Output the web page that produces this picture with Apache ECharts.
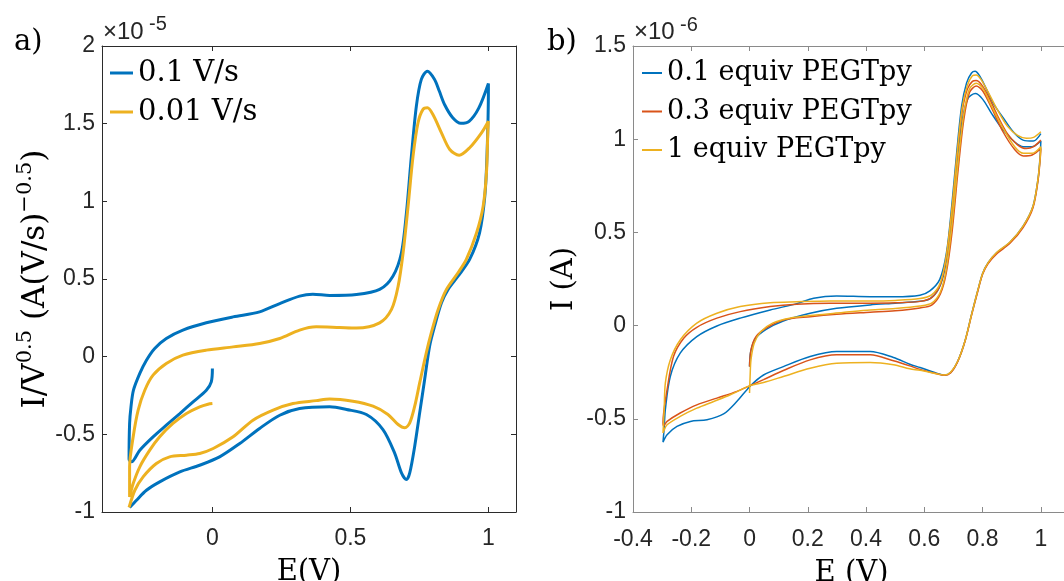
<!DOCTYPE html>
<html><head><meta charset="utf-8">
<script src="https://cdn.jsdelivr.net/npm/echarts@6/dist/echarts.min.js"></script>
<style>html,body{margin:0;padding:0;background:#fff}#c{width:1064px;height:581px}</style>
</head><body><div id="c"></div>
<script>
// ---------- data ----------
const aNames = ['0.1 V/s', '0.01 V/s'];
const bNames = ['0.1 equiv PEGTpy', '0.3 equiv PEGTpy', '1 equiv PEGTpy'];
const aXTicks = [0, 0.5, 1];
const aYTicks = [-1, -0.5, 0, 0.5, 1, 1.5, 2];
const bXTicks = [-0.4, -0.2, 0, 0.2, 0.4, 0.6, 0.8, 1];
const bYTicks = [-1, -0.5, 0, 0.5, 1, 1.5];

// panel a: [E (V), I/V^0.5 (x1e-5)]
const aBlue = [[0,-0.076],[-0.004,-0.162],[-0.022,-0.216],[-0.07,-0.291],[-0.118,-0.366],[-0.167,-0.441],[-0.215,-0.516],[-0.263,-0.602],[-0.293,-0.677],[-0.302,-0.66],[-0.3,-0.43],[-0.295,-0.323],[-0.286,-0.216],[-0.263,-0.108],[-0.239,-0.023],[-0.209,0.053],[-0.167,0.117],[-0.107,0.171],[-0.022,0.218],[0.075,0.256],[0.171,0.288],[0.244,0.342],[0.316,0.39],[0.364,0.402],[0.425,0.394],[0.522,0.4],[0.606,0.433],[0.654,0.518],[0.685,0.669],[0.703,0.926],[0.721,1.291],[0.739,1.613],[0.757,1.785],[0.779,1.838],[0.805,1.785],[0.822,1.71],[0.842,1.62],[0.87,1.54],[0.9,1.502],[0.93,1.515],[0.965,1.6],[1.0,1.759],[1.0,1.72],[0.995,1.3],[0.987,1.033],[0.968,0.797],[0.932,0.626],[0.89,0.518],[0.854,0.433],[0.83,0.347],[0.805,0.196],[0.787,0.068],[0.769,-0.147],[0.751,-0.362],[0.733,-0.576],[0.715,-0.748],[0.703,-0.791],[0.685,-0.748],[0.66,-0.619],[0.618,-0.469],[0.558,-0.372],[0.486,-0.34],[0.425,-0.323],[0.316,-0.334],[0.244,-0.377],[0.171,-0.462],[0.099,-0.559],[0.026,-0.645],[-0.046,-0.699],[-0.118,-0.742],[-0.191,-0.806],[-0.239,-0.86],[-0.275,-0.924],[-0.3,-0.971]];
const aYellow = [[0,-0.302],[-0.016,-0.306],[-0.046,-0.323],[-0.094,-0.366],[-0.143,-0.43],[-0.191,-0.516],[-0.227,-0.602],[-0.263,-0.709],[-0.287,-0.817],[-0.3,-0.903],[-0.3,-0.709],[-0.287,-0.516],[-0.269,-0.344],[-0.245,-0.216],[-0.215,-0.119],[-0.167,-0.044],[-0.107,0.01],[-0.022,0.042],[0.075,0.063],[0.171,0.085],[0.244,0.117],[0.316,0.171],[0.376,0.192],[0.461,0.188],[0.522,0.185],[0.606,0.218],[0.649,0.304],[0.673,0.454],[0.691,0.669],[0.709,0.969],[0.727,1.291],[0.745,1.506],[0.763,1.592],[0.779,1.602],[0.799,1.559],[0.83,1.441],[0.86,1.334],[0.894,1.297],[0.932,1.345],[0.975,1.441],[1.0,1.516],[0.998,1.45],[0.993,1.184],[0.981,0.969],[0.957,0.797],[0.92,0.626],[0.89,0.54],[0.848,0.433],[0.818,0.304],[0.793,0.153],[0.775,0.025],[0.751,-0.169],[0.733,-0.319],[0.715,-0.426],[0.697,-0.458],[0.673,-0.437],[0.636,-0.372],[0.582,-0.319],[0.509,-0.287],[0.425,-0.272],[0.376,-0.283],[0.292,-0.302],[0.22,-0.344],[0.147,-0.409],[0.075,-0.516],[0.003,-0.591],[-0.046,-0.623],[-0.094,-0.634],[-0.155,-0.645],[-0.203,-0.688],[-0.251,-0.774],[-0.281,-0.86],[-0.302,-0.97]];

// panel b: [E (V), I (x1e-6 A)]
const bBlue = [[0,-0.22],[0.004,-0.14],[0.02,-0.07],[0.057,-0.02],[0.116,0.025],[0.208,0.066],[0.299,0.093],[0.414,0.111],[0.5,0.12],[0.585,0.13],[0.62,0.145],[0.65,0.2],[0.67,0.3],[0.69,0.52],[0.71,0.85],[0.73,1.1],[0.75,1.22],[0.775,1.245],[0.8,1.215],[0.83,1.14],[0.87,1.05],[0.91,0.985],[0.94,0.96],[0.97,0.96],[1.0,0.99],
 [0.997,0.9],[0.99,0.784],[0.973,0.641],[0.939,0.534],[0.893,0.445],[0.848,0.391],[0.819,0.338],[0.8,0.28],[0.782,0.18],[0.762,0.06],[0.74,-0.08],[0.715,-0.19],[0.69,-0.252],[0.668,-0.266],[0.642,-0.255],[0.585,-0.225],[0.55,-0.207],[0.494,-0.171],[0.414,-0.139],[0.299,-0.139],[0.208,-0.166],[0.116,-0.22],[0.048,-0.265],[0.002,-0.325],[-0.043,-0.406],[-0.089,-0.474],[-0.146,-0.505],[-0.203,-0.514],[-0.249,-0.541],[-0.283,-0.585],[-0.297,-0.625],
 [-0.293,-0.55],[-0.289,-0.451],[-0.272,-0.273],[-0.238,-0.148],[-0.181,-0.059],[-0.112,-0.002],[-0.032,0.04],[0.071,0.084],[0.162,0.118],[0.22,0.147],[0.299,0.159],[0.414,0.155],[0.5,0.155],[0.585,0.163],[0.619,0.186],[0.653,0.248],[0.676,0.391],[0.694,0.641],[0.711,0.927],[0.728,1.177],[0.745,1.302],[0.762,1.355],[0.774,1.364],[0.791,1.337],[0.814,1.266],[0.836,1.194],[0.871,1.114],[0.905,1.04],[0.939,0.995],[0.974,0.99],[1.0,1.03]];
const bOrange = [[0,-0.22],[0.005,-0.13],[0.022,-0.059],[0.057,-0.014],[0.116,0.03],[0.208,0.048],[0.299,0.061],[0.414,0.072],[0.5,0.08],[0.585,0.095],[0.625,0.11],[0.655,0.17],[0.675,0.28],[0.695,0.5],[0.715,0.82],[0.735,1.1],[0.755,1.25],[0.778,1.285],[0.8,1.26],[0.83,1.17],[0.87,1.04],[0.91,0.945],[0.94,0.91],[0.97,0.915],[1.0,0.95],
 [0.997,0.88],[0.99,0.775],[0.973,0.632],[0.939,0.526],[0.893,0.44],[0.848,0.385],[0.819,0.333],[0.8,0.275],[0.782,0.175],[0.762,0.055],[0.74,-0.083],[0.715,-0.192],[0.69,-0.254],[0.668,-0.267],[0.642,-0.258],[0.585,-0.235],[0.55,-0.216],[0.494,-0.189],[0.414,-0.157],[0.299,-0.157],[0.208,-0.184],[0.116,-0.241],[0.048,-0.29],[0.002,-0.322],[-0.043,-0.353],[-0.112,-0.389],[-0.181,-0.425],[-0.238,-0.469],[-0.283,-0.514],[-0.295,-0.537],
 [-0.297,-0.52],[-0.283,-0.344],[-0.261,-0.166],[-0.226,-0.068],[-0.181,-0.009],[-0.112,0.04],[-0.032,0.075],[0.071,0.102],[0.162,0.115],[0.276,0.12],[0.414,0.12],[0.5,0.122],[0.585,0.13],[0.625,0.15],[0.655,0.22],[0.675,0.36],[0.695,0.62],[0.713,0.92],[0.73,1.15],[0.748,1.27],[0.765,1.31],[0.778,1.315],[0.795,1.295],[0.82,1.23],[0.85,1.13],[0.885,1.03],[0.92,0.97],[0.95,0.95],[0.975,0.96],[1.0,0.995]];
const bYellow = [[0,-0.362],[0.002,-0.272],[0.005,-0.184],[0.016,-0.095],[0.039,-0.032],[0.079,0.013],[0.137,0.04],[0.228,0.057],[0.32,0.07],[0.414,0.084],[0.5,0.092],[0.585,0.105],[0.625,0.12],[0.655,0.18],[0.675,0.3],[0.695,0.54],[0.715,0.86],[0.735,1.13],[0.755,1.27],[0.778,1.3],[0.8,1.275],[0.83,1.18],[0.87,1.06],[0.91,0.96],[0.94,0.925],[0.97,0.925],[1.0,0.96],
 [0.997,0.89],[0.99,0.785],[0.973,0.64],[0.939,0.534],[0.893,0.447],[0.848,0.392],[0.819,0.338],[0.8,0.28],[0.782,0.18],[0.762,0.058],[0.74,-0.08],[0.715,-0.19],[0.69,-0.25],[0.668,-0.265],[0.642,-0.258],[0.585,-0.24],[0.55,-0.232],[0.494,-0.21],[0.414,-0.198],[0.299,-0.202],[0.208,-0.229],[0.116,-0.273],[0.048,-0.305],[0.002,-0.322],[-0.066,-0.371],[-0.123,-0.407],[-0.181,-0.443],[-0.238,-0.487],[-0.283,-0.532],[-0.295,-0.567],
 [-0.297,-0.576],[-0.293,-0.45],[-0.289,-0.309],[-0.272,-0.184],[-0.238,-0.077],[-0.181,0.013],[-0.112,0.066],[-0.032,0.102],[0.071,0.123],[0.162,0.128],[0.276,0.132],[0.414,0.132],[0.5,0.135],[0.585,0.145],[0.625,0.165],[0.655,0.23],[0.675,0.37],[0.695,0.63],[0.713,0.93],[0.73,1.17],[0.748,1.29],[0.765,1.34],[0.778,1.345],[0.795,1.32],[0.82,1.25],[0.85,1.16],[0.885,1.07],[0.92,1.02],[0.95,1.005],[0.975,1.01],[1.0,1.04]];

// ---------- styling ----------
const BLUE = '#0072BD', ORANGE = '#D95319', YELLOW = '#EDB120';
const SANS = '"Liberation Sans", Arial, sans-serif';
const SERIF = '"DejaVu Serif", serif';
const AXA = '#2b2b2b', AXB = '#8a8a8a', LBL = '#262626';

function xAxis(grid, ticks, pos, color, margin, name, gap) {
  return {
    gridIndex: grid, type: 'value', min: -0.4, max: 1.1, position: pos,
    axisLine: {show: true, onZero: false, lineStyle: {color: color, width: 1}},
    axisTick: {show: true, inside: true, length: 5, customValues: ticks, lineStyle: {color: color}},
    axisLabel: {show: pos === 'bottom', customValues: ticks, margin: margin, fontFamily: SANS, fontSize: 23, color: LBL, formatter: v => String(v)},
    splitLine: {show: false},
    name: pos === 'bottom' ? name : '', nameLocation: 'middle', nameGap: gap,
    nameTextStyle: {fontFamily: SERIF, fontSize: 29, color: '#000', lineHeight: 36}
  };
}
function yAxis(grid, min, max, ticks, pos, color, margin, name, gap, rich) {
  return {
    gridIndex: grid, type: 'value', min: min, max: max, position: pos,
    axisLine: {show: true, onZero: false, lineStyle: {color: color, width: 1}},
    axisTick: {show: true, inside: true, length: 5, customValues: ticks, lineStyle: {color: color}},
    axisLabel: {show: pos === 'left', customValues: ticks, margin: margin, fontFamily: SANS, fontSize: 23, color: LBL, formatter: v => String(v)},
    splitLine: {show: false},
    name: pos === 'left' ? name : '', nameLocation: 'middle', nameGap: gap,
    nameTextStyle: {fontFamily: SERIF, fontSize: 29, color: '#000', lineHeight: 36, rich: rich}
  };
}
const supRich = {
  m: {fontFamily: SERIF, fontSize: 31, color: '#000', verticalAlign: 'bottom', lineHeight: 36},
  s: {fontFamily: SERIF, fontSize: 21, color: '#000', verticalAlign: 'top', lineHeight: 21}
};

function line(name, data, xi, color, width) {
  return {type: 'line', name: name, data: data, xAxisIndex: xi, yAxisIndex: xi,
    showSymbol: false, symbol: 'none', smooth: 0.3, clip: true,
    lineStyle: {width: width, color: color}, itemStyle: {color: color}};
}

const chart = echarts.init(document.getElementById('c'), null, {renderer: 'canvas'});
chart.setOption({
  animation: false,
  backgroundColor: '#fff',
  grid: [
    {left: 102, top: 46, width: 414, height: 466, containLabel: false, outerBoundsMode: 'none'},
    {left: 633, top: 46, width: 437, height: 466, containLabel: false, outerBoundsMode: 'none'}
  ],
  xAxis: [
    xAxis(0, aXTicks, 'bottom', AXA, 15, 'E(V)', 38),
    xAxis(0, aXTicks, 'top', AXA, 8, '', 0),
    xAxis(1, bXTicks, 'bottom', AXB, 16, 'E (V)', 39),
    xAxis(1, bXTicks, 'top', AXB, 8, '', 0)
  ],
  yAxis: [
    yAxis(0, -1, 2, aYTicks, 'left', AXA, 7, '{m|I/V}{s|0.5}{m| (A(V/s)}{s|\u22120.5}{m|)}', 49, supRich),
    yAxis(0, -1, 2, aYTicks, 'right', AXA, 7, '', 0),
    yAxis(1, -1, 1.5, bYTicks, 'left', AXB, 7, 'I (A)', 47),
    yAxis(1, -1, 1.5, bYTicks, 'right', AXB, 7, '', 0)
  ],
  legend: [
    {data: aNames, left: 110, top: 58, orient: 'vertical', padding: 0, icon: 'rect', itemWidth: 23, itemHeight: 3, itemGap: 9, selectedMode: false,
      textStyle: {fontFamily: SERIF, fontSize: 29, color: '#000', lineHeight: 30}},
    {data: bNames, left: 642, top: 58, orient: 'vertical', padding: 0, icon: 'rect', itemWidth: 20, itemHeight: 2, itemGap: 8.5, selectedMode: false,
      textStyle: {fontFamily: SERIF, fontSize: 27, color: '#000', lineHeight: 30}}
  ],
  graphic: [
    {type: 'text', x: 14, y: 42, style: {text: 'a)', fontFamily: SERIF, fontSize: 29, fill: '#000', verticalAlign: 'middle'}},
    {type: 'text', x: 547, y: 42, style: {text: 'b)', fontFamily: SERIF, fontSize: 29, fill: '#000', verticalAlign: 'middle'}},
    {type: 'text', x: 103, y: 32, style: {text: '\u00d710', fontFamily: SANS, fontSize: 24, fill: LBL, verticalAlign: 'middle'}},
    {type: 'text', x: 149, y: 24.5, style: {text: '-5', fontFamily: SANS, fontSize: 20, fill: LBL, verticalAlign: 'middle'}},
    {type: 'text', x: 634, y: 32.7, style: {text: '\u00d710', fontFamily: SANS, fontSize: 24, fill: LBL, verticalAlign: 'middle'}},
    {type: 'text', x: 680, y: 25.5, style: {text: '-6', fontFamily: SANS, fontSize: 20, fill: LBL, verticalAlign: 'middle'}}
  ],
  series: [
    line(aNames[0], aBlue, 0, BLUE, 3),
    line(aNames[1], aYellow, 0, YELLOW, 3),
    line(bNames[0], bBlue, 2, BLUE, 1.5),
    line(bNames[1], bOrange, 2, ORANGE, 1.5),
    line(bNames[2], bYellow, 2, YELLOW, 1.5)
  ]
});
</script></body></html>
